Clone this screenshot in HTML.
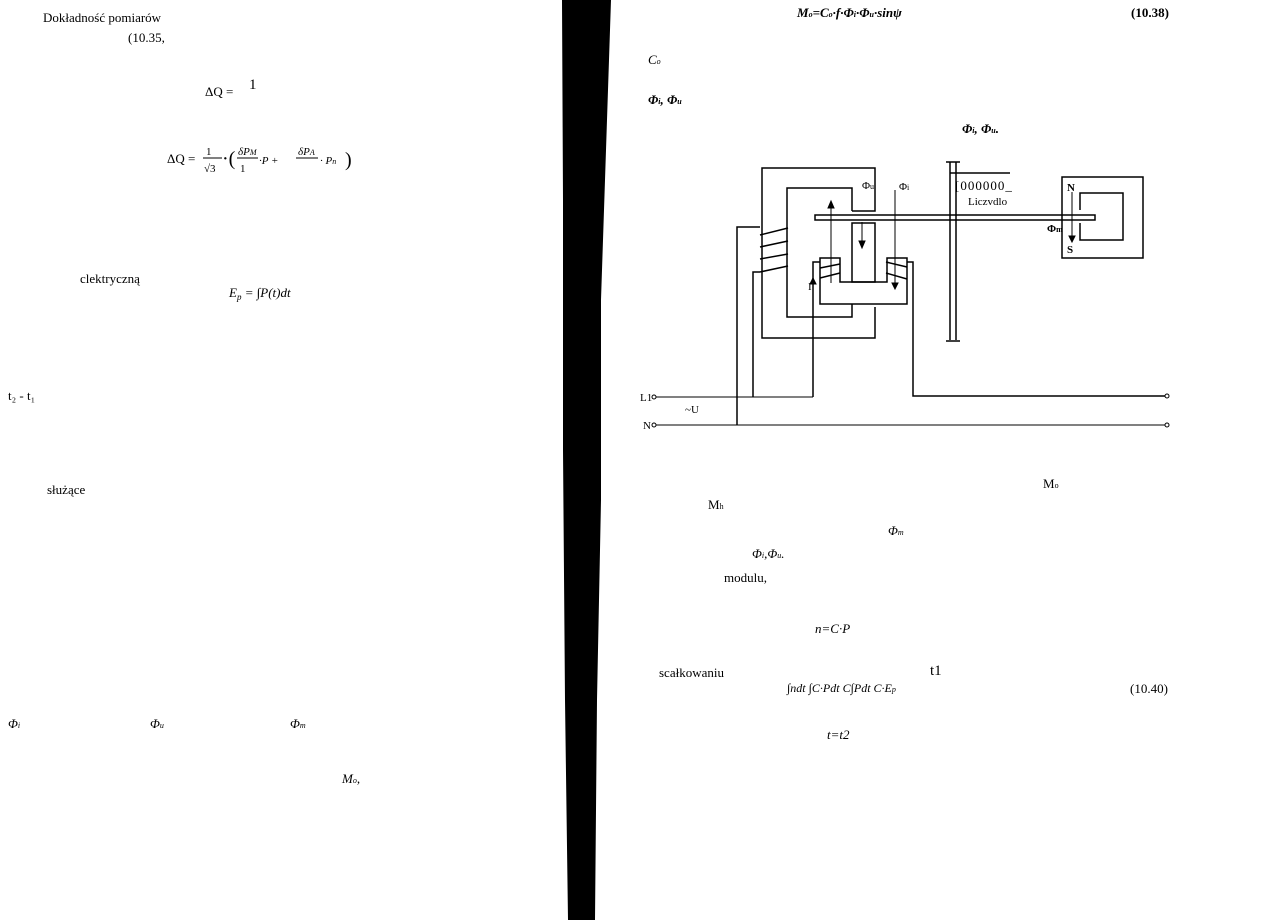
<!DOCTYPE html>
<html><head><meta charset="utf-8"><style>
html,body{margin:0;padding:0;background:#fff;}
svg{display:block}
text{font-family:"Liberation Serif",serif;fill:#000}
.i{font-style:italic}
</style></head><body>
<svg width="1263" height="920" viewBox="0 0 1263 920" xmlns="http://www.w3.org/2000/svg">
<polygon points="562,0 611,0 606,150 601,300 601,500 597,700 595,920 568,920 565,700 563,450 563,200" fill="#000"/>
<g font-size="13">
<text x="43" y="22">Dokładność   pomiarów</text>
<text x="128" y="42">(10.35,</text>
<text x="205" y="96">ΔQ =</text>
<text x="249" y="89" font-size="15">1</text>
<text x="167" y="163">ΔQ =</text>
<text x="206" y="155" font-size="11">1</text>
<line x1="203" y1="158" x2="222" y2="158" stroke="#000"/>
<text x="204" y="172" font-size="11">√3</text>
<text x="222" y="165" font-size="20">·(</text>
<text x="238" y="155" class="i" font-size="11">δP<tspan font-size="8">M</tspan></text>
<line x1="237" y1="158" x2="258" y2="158" stroke="#000"/>
<text x="240" y="172" font-size="11">1</text>
<text x="259" y="164" class="i" font-size="11">·P +</text>
<text x="298" y="155" class="i" font-size="11">δP<tspan font-size="8">A</tspan></text>
<line x1="296" y1="158" x2="318" y2="158" stroke="#000"/>
<text x="320" y="164" class="i" font-size="11">· P<tspan font-size="8">n</tspan></text>
<text x="345" y="166" font-size="20">)</text>
<text x="80" y="283">clektryczną</text>
<text x="229" y="297" class="i">E<tspan font-size="9" dy="3">p</tspan><tspan dy="-3"> = ∫P(t)dt</tspan></text>
<text x="8" y="400">t₂ - t₁</text>
<text x="47" y="494">służące</text>
<text x="8" y="728" class="i">Φ<tspan font-size="8">i</tspan></text>
<text x="150" y="728" class="i">Φ<tspan font-size="8">u</tspan></text>
<text x="290" y="728" class="i">Φ<tspan font-size="8">m</tspan></text>
<text x="342" y="783" class="i">M<tspan font-size="8">o</tspan>,</text>

<text x="797" y="17" class="i" font-weight="bold">M<tspan font-size="8">o</tspan>=C<tspan font-size="8">o</tspan>·f·Φ<tspan font-size="8">i</tspan>·Φ<tspan font-size="8">u</tspan>·sinψ</text>
<text x="1131" y="17" font-weight="bold">(10.38)</text>
<text x="648" y="64" class="i">C<tspan font-size="8">o</tspan></text>
<text x="648" y="104" class="i" font-weight="bold">Φ<tspan font-size="8">i</tspan>, Φ<tspan font-size="8">u</tspan></text>
<text x="962" y="133" class="i" font-weight="bold">Φ<tspan font-size="8">i</tspan>,  Φ<tspan font-size="8">u</tspan>.</text>
<text x="1043" y="488">M<tspan font-size="8">o</tspan></text>
<text x="708" y="509">M<tspan font-size="8">h</tspan></text>
<text x="888" y="535" class="i">Φ<tspan font-size="8">m</tspan></text>
<text x="752" y="558" class="i">Φ<tspan font-size="8">i</tspan>,Φ<tspan font-size="8">u</tspan>.</text>
<text x="724" y="582">modulu,</text>
<text x="815" y="633" class="i">n=C·P</text>
<text x="659" y="677">scałkowaniu</text>
<text x="930" y="675" font-size="15">t1</text>
<text x="787" y="692" class="i" font-size="12">∫ndt     ∫C·Pdt   C∫Pdt   C·E<tspan font-size="8">p</tspan></text>
<text x="1130" y="693">(10.40)</text>
<text x="827" y="739" class="i">t=t2</text>
</g>

<g fill="none" stroke="#000" stroke-width="1.5">
<!-- voltage core -->
<path d="M852,211 H875 V168 H762 V338 H875 V307"/>
<path d="M852,211 V188 H787 V317 H852 V304"/>
<rect x="852" y="223" width="23" height="59"/>
<!-- current core -->
<path d="M820,258 H840 V282 H887 V258 H907 V304 H820 Z"/>
<!-- disc -->
<rect x="815" y="215" width="280" height="5"/>
<!-- shaft -->
<line x1="950" y1="162" x2="950" y2="340"/><line x1="956" y1="162" x2="956" y2="340"/>
<line x1="946" y1="162" x2="960" y2="162"/><line x1="946" y1="341" x2="960" y2="341"/>
<line x1="950" y1="173" x2="1010" y2="173"/>
<!-- magnet -->
<rect x="1062" y="177" width="81" height="81"/>
<path d="M1080,210 V193 H1123 V240 H1080 V223"/>
<!-- coils -->
<line x1="760" y1="235" x2="788" y2="228"/><line x1="760" y1="247" x2="788" y2="241"/>
<line x1="760" y1="259" x2="788" y2="254"/><line x1="760" y1="272" x2="788" y2="266"/>
<line x1="820" y1="268" x2="840" y2="264"/><line x1="820" y1="278" x2="840" y2="273"/>
<line x1="886" y1="262" x2="907" y2="267"/><line x1="886" y1="273" x2="907" y2="279"/>
<!-- wires -->
<path d="M760,227 H737 V425"/>
<path d="M760,272 H753 V397"/>
<path d="M820,262 H813 V397"/>
<path d="M907,262 H913 V396 H1165"/>
</g>
<g stroke="#000" stroke-width="1">
<line x1="656" y1="397" x2="813" y2="397"/>
<line x1="656" y1="425" x2="1165" y2="425"/>
<!-- arrows -->
<line x1="831" y1="283" x2="831" y2="205"/><polygon points="828,208 834,208 831,201"/>
<line x1="862" y1="222" x2="862" y2="243"/><polygon points="859,241 865,241 862,248"/>
<line x1="895" y1="190" x2="895" y2="285"/><polygon points="892,283 898,283 895,289"/>
<line x1="1072" y1="192" x2="1072" y2="238"/><polygon points="1069,236 1075,236 1072,242"/>
<polygon points="810,284 816,284 813,278"/>
</g>
<g fill="#fff" stroke="#000" stroke-width="1">
<circle cx="654" cy="397" r="2"/><circle cx="654" cy="425" r="2"/>
<circle cx="1167" cy="396" r="2"/><circle cx="1167" cy="425" r="2"/>
</g>
<g font-size="11">
<text x="862" y="189">Φ<tspan font-size="8">u</tspan></text>
<text x="899" y="190">Φ<tspan font-size="8">i</tspan></text>
<text x="955" y="190" font-size="13" letter-spacing="1">[000000_</text>
<text x="968" y="205">Liczvdlo</text>
<text x="1067" y="191" font-weight="bold">N</text>
<text x="1067" y="253" font-weight="bold">S</text>
<text x="1047" y="232" font-weight="bold">Φ<tspan font-size="8">m</tspan></text>
<text x="808" y="290">I</text>
<text x="640" y="401">L1</text>
<text x="643" y="429">N</text>
<text x="685" y="413">~U</text>
</g>
</svg>
</body></html>
